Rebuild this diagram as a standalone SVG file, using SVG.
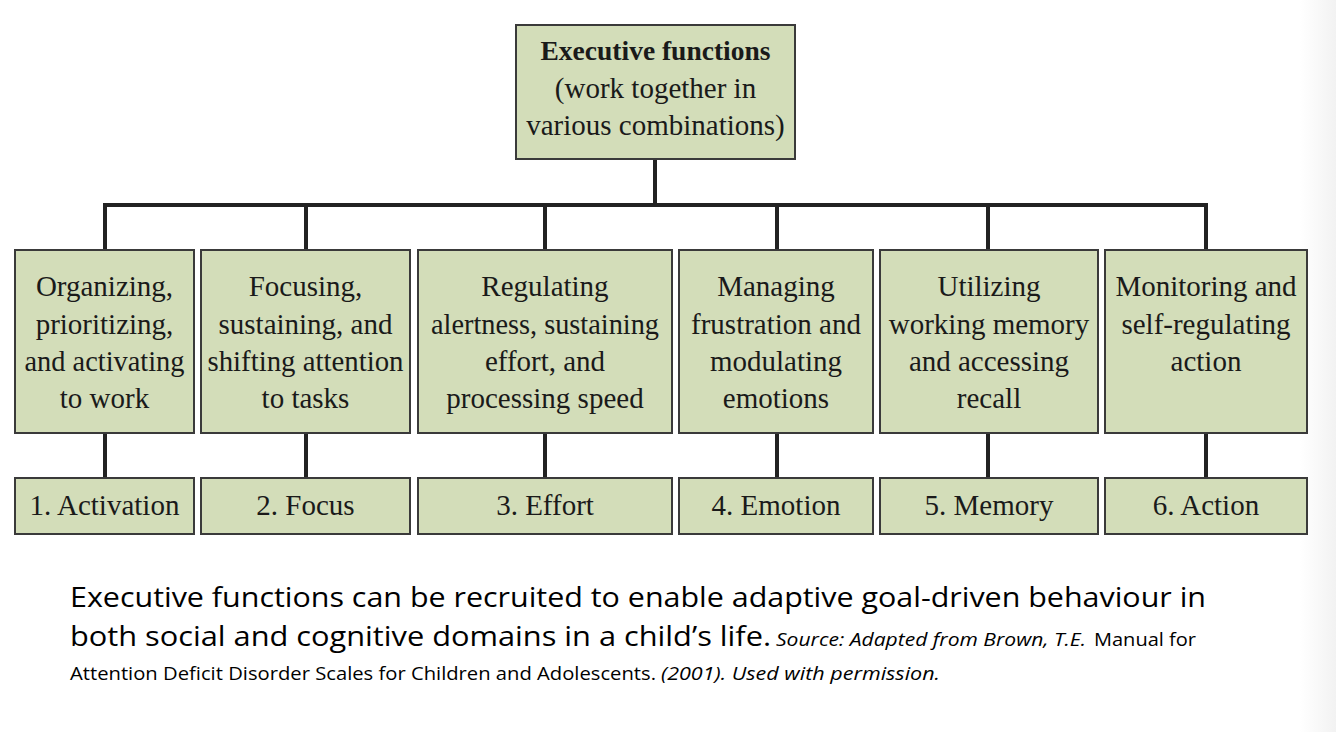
<svg xmlns="http://www.w3.org/2000/svg" width="1336" height="732" viewBox="0 0 1336 732">
  <defs>
    <linearGradient id="edge" x1="0" y1="0" x2="1" y2="0">
      <stop offset="0" stop-color="#ffffff"/>
      <stop offset="1" stop-color="#f2f2f2"/>
    </linearGradient>
    <style>
      .box { fill: #d3ddb9; stroke: #3a3a3a; stroke-width: 2; }
      .conn { stroke: #222; stroke-width: 4; fill: none; }
      .t { font-family: "Liberation Serif", "Times New Roman", serif; font-size: 29px; fill: #1a1a1a; text-anchor: middle; }
      .tb { font-family: "Liberation Serif", "Times New Roman", serif; font-size: 27.5px; font-weight: bold; fill: #1a1a1a; text-anchor: middle; }
      .cap { font-family: "Open Sans", "Liberation Sans", Arial, sans-serif; fill: #000; }
    </style>
  </defs>
  <rect x="0" y="0" width="1336" height="732" fill="#ffffff"/>
  <rect x="1300" y="0" width="36" height="732" fill="url(#edge)"/>

  <g id="connectors">
    <line class="conn" x1="655" y1="159" x2="655" y2="205"/>
    <line class="conn" x1="103" y1="205" x2="1208" y2="205"/>
    <line class="conn" x1="105" y1="205" x2="105" y2="250"/>
    <line class="conn" x1="306" y1="205" x2="306" y2="250"/>
    <line class="conn" x1="545" y1="205" x2="545" y2="250"/>
    <line class="conn" x1="777" y1="205" x2="777" y2="250"/>
    <line class="conn" x1="988" y1="205" x2="988" y2="250"/>
    <line class="conn" x1="1206" y1="205" x2="1206" y2="250"/>
    <line class="conn" x1="105" y1="433" x2="105" y2="478"/>
    <line class="conn" x1="306" y1="433" x2="306" y2="478"/>
    <line class="conn" x1="545" y1="433" x2="545" y2="478"/>
    <line class="conn" x1="777" y1="433" x2="777" y2="478"/>
    <line class="conn" x1="988" y1="433" x2="988" y2="478"/>
    <line class="conn" x1="1206" y1="433" x2="1206" y2="478"/>
  </g>

  <g id="root">
    <rect class="box" x="516" y="25" width="279" height="134"/>
    <text class="tb" x="655.5" y="60">Executive functions</text>
    <text class="t" x="655.5" y="98">(work together in</text>
    <text class="t" x="655.5" y="135">various combinations)</text>
  </g>

  <g id="n1">
    <rect class="box" x="15" y="250" width="179" height="183"/>
    <text class="t" x="104.5" y="296">Organizing,</text>
    <text class="t" x="104.5" y="334">prioritizing,</text>
    <text class="t" x="104.5" y="371" textLength="160" lengthAdjust="spacingAndGlyphs">and activating</text>
    <text class="t" x="104.5" y="408">to work</text>
  </g>
  <g id="n2">
    <rect class="box" x="201" y="250" width="209" height="183"/>
    <text class="t" x="305.5" y="296">Focusing,</text>
    <text class="t" x="305.5" y="334">sustaining, and</text>
    <text class="t" x="305.5" y="371" textLength="196" lengthAdjust="spacingAndGlyphs">shifting attention</text>
    <text class="t" x="305.5" y="408">to tasks</text>
  </g>
  <g id="n3">
    <rect class="box" x="418" y="250" width="254" height="183"/>
    <text class="t" x="545" y="296">Regulating</text>
    <text class="t" x="545" y="334" textLength="228" lengthAdjust="spacingAndGlyphs">alertness, sustaining</text>
    <text class="t" x="545" y="371">effort, and</text>
    <text class="t" x="545" y="408">processing speed</text>
  </g>
  <g id="n4">
    <rect class="box" x="679" y="250" width="194" height="183"/>
    <text class="t" x="776" y="296">Managing</text>
    <text class="t" x="776" y="334">frustration and</text>
    <text class="t" x="776" y="371">modulating</text>
    <text class="t" x="776" y="408">emotions</text>
  </g>
  <g id="n5">
    <rect class="box" x="880" y="250" width="218" height="183"/>
    <text class="t" x="989" y="296">Utilizing</text>
    <text class="t" x="989" y="334">working memory</text>
    <text class="t" x="989" y="371">and accessing</text>
    <text class="t" x="989" y="408">recall</text>
  </g>
  <g id="n6">
    <rect class="box" x="1105" y="250" width="202" height="183"/>
    <text class="t" x="1206" y="296">Monitoring and</text>
    <text class="t" x="1206" y="334">self-regulating</text>
    <text class="t" x="1206" y="371">action</text>
  </g>

  <g id="b1">
    <rect class="box" x="15" y="478" width="179" height="56"/>
    <text class="t" x="104.5" y="515">1. Activation</text>
  </g>
  <g id="b2">
    <rect class="box" x="201" y="478" width="209" height="56"/>
    <text class="t" x="305.5" y="515">2. Focus</text>
  </g>
  <g id="b3">
    <rect class="box" x="418" y="478" width="254" height="56"/>
    <text class="t" x="545" y="515">3. Effort</text>
  </g>
  <g id="b4">
    <rect class="box" x="679" y="478" width="194" height="56"/>
    <text class="t" x="776" y="515">4. Emotion</text>
  </g>
  <g id="b5">
    <rect class="box" x="880" y="478" width="218" height="56"/>
    <text class="t" x="989" y="515">5. Memory</text>
  </g>
  <g id="b6">
    <rect class="box" x="1105" y="478" width="202" height="56"/>
    <text class="t" x="1206" y="515">6. Action</text>
  </g>

  <g id="caption">
    <text class="cap" x="70" y="607" font-size="28" textLength="1136" lengthAdjust="spacingAndGlyphs">Executive functions can be recruited to enable adaptive goal-driven behaviour in</text>
    <text class="cap" x="70" y="646" font-size="28" textLength="701" lengthAdjust="spacingAndGlyphs">both social and cognitive domains in a child’s life.</text>
    <text class="cap" x="776" y="646" font-size="18.5" font-style="italic" textLength="310" lengthAdjust="spacingAndGlyphs">Source: Adapted from Brown, T.E.</text>
    <text class="cap" x="1094" y="646" font-size="18.5" textLength="102" lengthAdjust="spacingAndGlyphs">Manual for</text>
    <text class="cap" x="70" y="680" font-size="18.5" textLength="586" lengthAdjust="spacingAndGlyphs">Attention Deficit Disorder Scales for Children and Adolescents.</text>
    <text class="cap" x="661" y="680" font-size="18.5" font-style="italic" textLength="279" lengthAdjust="spacingAndGlyphs">(2001). Used with permission.</text>
  </g>
</svg>
